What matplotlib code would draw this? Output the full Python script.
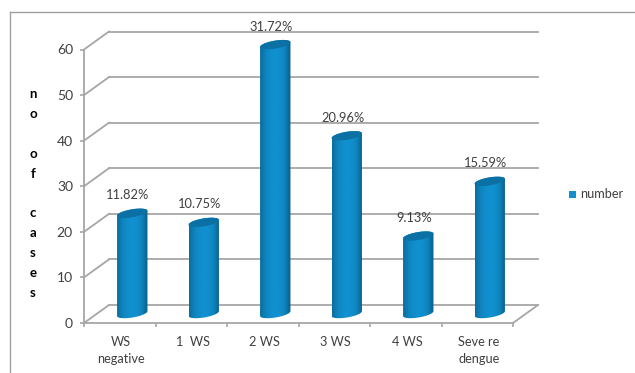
import numpy as np
import matplotlib
matplotlib.use("Agg")
import matplotlib.pyplot as plt
from matplotlib.colors import LinearSegmentedColormap
from matplotlib.patches import Polygon, Rectangle

W, H = 635, 373

categories = ["WS\nnegative", "1  WS", "2 WS", "3 WS", "4 WS", "Seve re\ndengue"]
cases = [22, 20, 59, 39, 17, 29]
percents = ["11.82%", "10.75%", "31.72%", "20.96%", "9.13%", "15.59%"]
y_ticks = [0, 10, 20, 30, 40, 50, 60]
y_letters = ["n", "o", "", "o", "f", "", "c", "a", "s", "e", "s"]

GRID = "#a6a6a6"
TEXT = "#404040"
plt.rcParams["font.family"] = ["Lato", "DejaVu Sans"]

fig = plt.figure(figsize=(W / 100, H / 100), dpi=100)
fig.patch.set_facecolor("white")

# front face of the 3d box, in pixels: x 84-513, y 49.5-323
ax = fig.add_axes([84 / W, 1 - 323 / H, 429 / W, 273.5 / H])
ax.set_xlim(0, 6)
ax.set_ylim(0, 60)
ax.patch.set_alpha(0)
per_x = 429 / 6
per_y = 273.5 / 60
depth_x = 25 / per_x
depth_y = 18 / per_y

for s in ["top", "right"]:
    ax.spines[s].set_visible(False)
for s in ["left", "bottom"]:
    ax.spines[s].set_color(GRID)
    ax.spines[s].set_linewidth(1.3)

# back wall grid and the slanted lines on the side wall
for v in y_ticks:
    ax.plot([depth_x, 6 + depth_x], [v + depth_y] * 2, color=GRID, lw=1.3, clip_on=False, zorder=1)
    ax.plot([0, depth_x], [v, v + depth_y], color=GRID, lw=1.3, clip_on=False, zorder=1)
ax.plot([6, 6 + depth_x], [0, depth_y], color=GRID, lw=1.3, clip_on=False, zorder=1)

ax.set_yticks(y_ticks)
ax.set_xticks(range(7))
ax.set_xticklabels([])
ax.tick_params(axis="both", color=GRID, width=1.2, length=3)
ax.tick_params(axis="y", labelsize=10, labelcolor=TEXT, pad=5)

shade = LinearSegmentedColormap.from_list(
    "cyl", ["#0b6d9f", "#0f86c0", "#1190cf", "#1190cf", "#0f85bf", "#0a5d88"])
grad = np.linspace(0, 1, 64).reshape(1, -1)
half_w = 15.2 / per_x
rad = 4.0 / per_y
tilt = 2.4 / per_y
t = np.linspace(0, 2 * np.pi, 80)


def cylinder(i, value):
    cx = i + 0.5 + depth_x / 2
    base = depth_y / 2 + 0.1
    top = base + value
    ex = cx + half_w * np.cos(t)
    ey = rad * np.sin(t) + tilt * np.cos(t)
    lower = t > np.pi
    # body outline: lower edge of the base ellipse, then up and over the top
    xs = np.r_[ex[lower], ex[~lower]]
    ys = np.r_[base + ey[lower], top + ey[~lower]]
    body = Polygon(np.c_[xs, ys], closed=True, transform=ax.transData, fc="none", ec="none")
    ax.add_patch(body)
    im = ax.imshow(grad, cmap=shade, aspect="auto", zorder=3,
                   extent=[cx - half_w, cx + half_w, base - 2, top + 2])
    # the tallest bar rises above the axes box
    im.set_clip_box(fig.bbox)
    im.set_clip_path(body)
    ax.fill(ex, top + ey, color="#0b70a3", zorder=4, lw=0, clip_on=False)


for i, (v, p) in enumerate(zip(cases, percents)):
    cylinder(i, v)
    ax.annotate(p, (i + 0.5 + depth_x / 2, v + depth_y / 2), xytext=(-3, 9),
                textcoords="offset points", ha="center", va="bottom",
                fontsize=9.3, color=TEXT, zorder=5, annotation_clip=False)
    ax.annotate(categories[i], (i + 0.5, 0), xytext=(1, -9.5), textcoords="offset points",
                ha="center", va="top", fontsize=9.2, color=TEXT, linespacing=1.5,
                annotation_clip=False)

ax.set_xlim(0, 6)
ax.set_ylim(0, 60)

# stacked axis title, one letter per row
for k, ch in enumerate(y_letters):
    fig.text(33 / W, 1 - (94 + k * 19.9) / H, ch, ha="center", va="center",
             fontsize=9.5, fontweight="bold", color="black")

# legend key and label
fig.add_artist(Rectangle((569 / W, 1 - 198 / H), 7 / W, 7 / H, transform=fig.transFigure,
                         fc="#1190cf", ec="none"))
fig.text(580 / W, 1 - 194.5 / H, "number", ha="left", va="center", fontsize=9.2, color=TEXT)

# outer chart frame, open on the right and at the bottom
fig.add_artist(plt.Line2D([9.5 / W, 9.5 / W], [0, 1 - 11.5 / H], color="#a0a0a0", lw=1))
fig.add_artist(plt.Line2D([9.5 / W, 1], [1 - 11.5 / H] * 2, color="#a0a0a0", lw=1))

fig.savefig("out.png", dpi=100)
